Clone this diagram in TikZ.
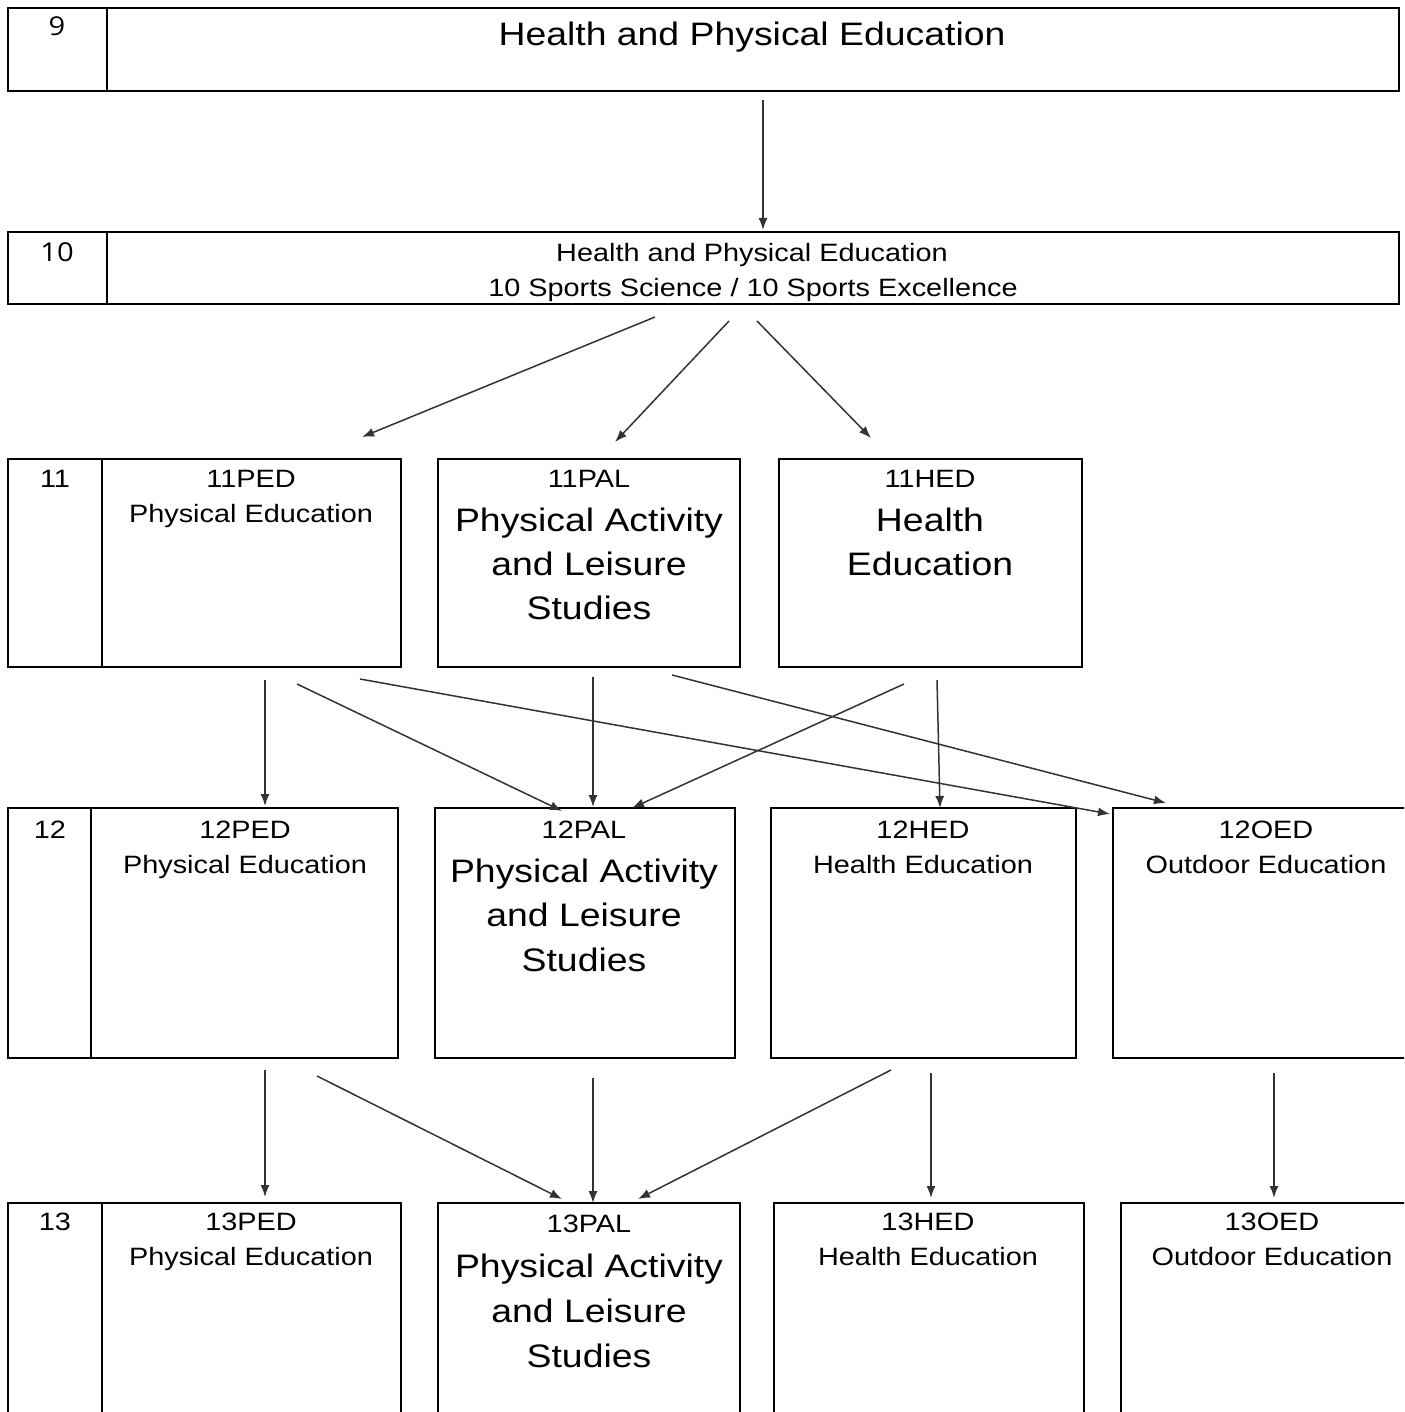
\documentclass[tikz,border=0pt]{standalone}
\usepackage{fontspec}
\setmainfont{Liberation Sans}[FakeStretch=1.15]
\newfontfamily\gradefont{Open Sans}[FakeStretch=1.12]
\usetikzlibrary{arrows.meta}
\tikzset{
  cell/.style={draw=black, line width=2.4pt, inner sep=0pt, outer sep=0pt},
  small/.style={inner sep=0pt, anchor=base, font=\fontsize{25.1}{30}\selectfont},
  big/.style={inner sep=0pt, anchor=base, font=\fontsize{32.5}{40}\selectfont},
  grade/.style={inner sep=0pt, anchor=base, font=\gradefont\fontsize{26}{30}\selectfont},
  flow/.style={draw=black!80, line width=1.5pt, -{Latex[length=12pt,width=9pt]}},
}
\begin{document}
\begin{tikzpicture}[x=1pt,y=-1pt]
\useasboundingbox (0,0) rectangle (1404,1412);
\clip (0,0) rectangle (1404,1412);
\fill[white] (0,0) rectangle (1404,1412);
% ---- boxes
\node[cell, minimum width=99pt, minimum height=83pt] (g9) at (57.5,49.5) {};
\node[cell, minimum width=1292pt, minimum height=83pt] (b9) at (753,49.5) {};
\node[cell, minimum width=99pt, minimum height=72pt] (g10) at (57.5,268) {};
\node[cell, minimum width=1292pt, minimum height=72pt] (b10) at (753,268) {};
\node[cell, minimum width=94pt, minimum height=208pt] (g11) at (55,563) {};
\node[cell, minimum width=299pt, minimum height=208pt] (b11ped) at (251.5,563) {};
\node[cell, minimum width=302pt, minimum height=208pt] (b11pal) at (589,563) {};
\node[cell, minimum width=303pt, minimum height=208pt] (b11hed) at (930.5,563) {};
\node[cell, minimum width=83pt, minimum height=250pt] (g12) at (49.5,933) {};
\node[cell, minimum width=307pt, minimum height=250pt] (b12ped) at (244.5,933) {};
\node[cell, minimum width=300pt, minimum height=250pt] (b12pal) at (585,933) {};
\node[cell, minimum width=305pt, minimum height=250pt] (b12hed) at (923.5,933) {};
\node[cell, minimum width=311pt, minimum height=250pt] (b12oed) at (1268.5,933) {};
\node[cell, minimum width=94pt, minimum height=237pt] (g13) at (55,1321.5) {};
\node[cell, minimum width=299pt, minimum height=237pt] (b13ped) at (251.5,1321.5) {};
\node[cell, minimum width=302pt, minimum height=237pt] (b13pal) at (589,1321.5) {};
\node[cell, minimum width=310pt, minimum height=237pt] (b13hed) at (929,1321.5) {};
\node[cell, minimum width=303pt, minimum height=237pt] (b13oed) at (1272.5,1321.5) {};
% ---- texts
\node[grade] (t9g) at (57,36) {9};
\node[big] (t9) at (752,46) {Health and Physical Education};
\node[grade] (t10g) at (57,262) {10};
\node[small] (t10a) at (752,262) {Health and Physical Education};
\node[small] (t10b) at (753,297) {10 Sports Science / 10 Sports Excellence};
\node[small] (t11g) at (55,487) {11};
\node[small] (t11peda) at (251,487) {11PED};
\node[small] (t11pedb) at (251,522) {Physical Education};
\node[small] (t11pala) at (589,487) {11PAL};
\node[big] (t11palb) at (589,531) {Physical Activity};
\node[big] (t11palc) at (589,575) {and Leisure};
\node[big] (t11pald) at (589,619) {Studies};
\node[small] (t11heda) at (930,487) {11HED};
\node[big] (t11hedb) at (930,531) {Health};
\node[big] (t11hedc) at (930,575) {Education};
\node[small] (t12g) at (50,838) {12};
\node[small] (t12peda) at (245,838) {12PED};
\node[small] (t12pedb) at (245,873) {Physical Education};
\node[small] (t12pala) at (584,838) {12PAL};
\node[big] (t12palb) at (584,882) {Physical Activity};
\node[big] (t12palc) at (584,926) {and Leisure};
\node[big] (t12pald) at (584,971) {Studies};
\node[small] (t12heda) at (923,838) {12HED};
\node[small] (t12hedb) at (923,873) {Health Education};
\node[small] (t12oeda) at (1266,838) {12OED};
\node[small] (t12oedb) at (1266,873) {Outdoor Education};
\node[small] (t13g) at (55,1230) {13};
\node[small] (t13peda) at (251,1230) {13PED};
\node[small] (t13pedb) at (251,1265) {Physical Education};
\node[small] (t13pala) at (589,1232) {13PAL};
\node[big] (t13palb) at (589,1277) {Physical Activity};
\node[big] (t13palc) at (589,1322) {and Leisure};
\node[big] (t13pald) at (589,1367) {Studies};
\node[small] (t13heda) at (928,1230) {13HED};
\node[small] (t13hedb) at (928,1265) {Health Education};
\node[small] (t13oeda) at (1272,1230) {13OED};
\node[small] (t13oedb) at (1272,1265) {Outdoor Education};
% ---- arrow end points
\coordinate (s9) at (763,100);   \coordinate (e10) at (763,230);
\coordinate (s10a) at (655,317); \coordinate (e11ped) at (362,437);
\coordinate (s10b) at (729,321); \coordinate (e11pal) at (615,442);
\coordinate (s10c) at (757,321); \coordinate (e11hed) at (871,438);
\coordinate (s11a) at (265,680); \coordinate (e12peda) at (265,806);
\coordinate (s11b) at (297,684); \coordinate (e12pala) at (562,811);
\coordinate (s11c) at (360,679); \coordinate (e12oeda) at (1110,814);
\coordinate (s11d) at (593,677); \coordinate (e12palb) at (593,807);
\coordinate (s11e) at (672,675); \coordinate (e12oedb) at (1166,803);
\coordinate (s11f) at (904,684); \coordinate (e12palc) at (632,808);
\coordinate (s11g) at (937,680); \coordinate (e12heda) at (940,808);
\coordinate (s12a) at (265,1070); \coordinate (e13peda) at (265,1197);
\coordinate (s12b) at (317,1076); \coordinate (e13pala) at (562,1199);
\coordinate (s12c) at (593,1078); \coordinate (e13palb) at (593,1203);
\coordinate (s12d) at (891,1070); \coordinate (e13palc) at (638,1199);
\coordinate (s12e) at (931,1073); \coordinate (e13heda) at (931,1198);
\coordinate (s12f) at (1274,1073); \coordinate (e13oeda) at (1274,1198);
% ---- arrows
\draw[flow] (s9) -- (e10);
\draw[flow] (s10a) -- (e11ped);
\draw[flow] (s10b) -- (e11pal);
\draw[flow] (s10c) -- (e11hed);
\draw[flow] (s11a) -- (e12peda);
\draw[flow] (s11b) -- (e12pala);
\draw[flow] (s11c) -- (e12oeda);
\draw[flow] (s11d) -- (e12palb);
\draw[flow] (s11e) -- (e12oedb);
\draw[flow] (s11f) -- (e12palc);
\draw[flow] (s11g) -- (e12heda);
\draw[flow] (s12a) -- (e13peda);
\draw[flow] (s12b) -- (e13pala);
\draw[flow] (s12c) -- (e13palb);
\draw[flow] (s12d) -- (e13palc);
\draw[flow] (s12e) -- (e13heda);
\draw[flow] (s12f) -- (e13oeda);
\end{tikzpicture}
\end{document}
